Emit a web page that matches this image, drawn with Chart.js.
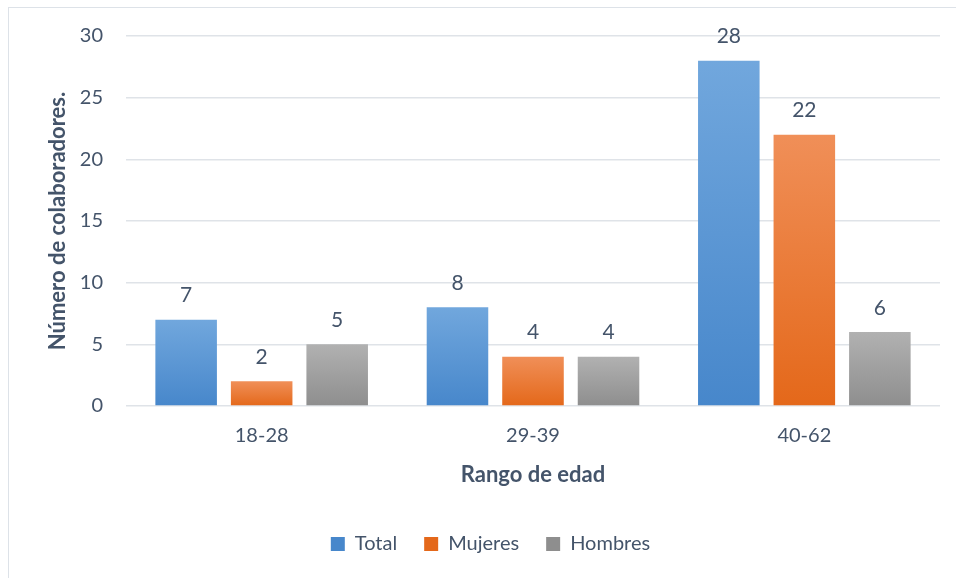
<!DOCTYPE html>
<html>
<head>
<meta charset="utf-8">
<script src="https://cdn.jsdelivr.net/npm/chart.js@4/dist/chart.umd.min.js"></script>
<style>
  html, body { margin: 0; padding: 0; background: #ffffff; }
  #wrap { position: relative; width: 956px; height: 578px; overflow: hidden; }
  #frame { position: absolute; left: 8px; top: 7px; width: 1000px; height: 1000px;
           border-left: 1.5px solid #dde2e8; border-top: 1.5px solid #dde2e8; box-sizing: border-box; }
  canvas { position: absolute; left: 0; top: 0; }
</style>
</head>
<body>
<div id="wrap">
  <div id="frame"></div>
  <canvas id="c" width="956" height="578"></canvas>
</div>
<script>
const categories = ['18-28', '29-39', '40-62'];
const total   = [7, 8, 28];
const mujeres = [2, 4, 22];
const hombres = [5, 4, 6];
const seriesNames = ['Total', 'Mujeres', 'Hombres'];
const yTicks = [0, 5, 10, 15, 20, 25, 30];

const TEXT = '#44546a';
const FONT = 'Lato, "Open Sans", sans-serif';

// top / bottom colours of each series' vertical gradient
const shades = [
  ['#71a7dd', '#4787cb'],
  ['#f08f58', '#e4681a'],
  ['#b1b1b1', '#8e8e8e']
];

function barGradient(i) {
  return function (ctx) {
    const chart = ctx.chart;
    const y = chart.scales.y;
    if (!y || ctx.type !== 'data') return shades[i][1];
    const v = ctx.raw;
    const top = y.getPixelForValue(v);
    const base = y.getPixelForValue(0);
    if (!isFinite(top) || !isFinite(base) || top === base) return shades[i][1];
    const g = chart.ctx.createLinearGradient(0, top, 0, base);
    g.addColorStop(0, shades[i][0]);
    g.addColorStop(1, shades[i][1]);
    return g;
  };
}

// value labels above each bar
const valueLabels = {
  id: 'valueLabels',
  afterDatasetsDraw(chart) {
    const ctx = chart.ctx;
    ctx.save();
    ctx.font = '21px ' + FONT;
    ctx.fillStyle = TEXT;
    ctx.textAlign = 'center';
    ctx.textBaseline = 'middle';
    chart.data.datasets.forEach((ds, di) => {
      chart.getDatasetMeta(di).data.forEach((bar, i) => {
        ctx.fillText(String(ds.data[i]), bar.x, bar.y - 24);
      });
    });
    ctx.restore();
  }
};

new Chart(document.getElementById('c'), {
  type: 'bar',
  data: {
    labels: categories,
    datasets: [total, mujeres, hombres].map((d, i) => ({
      label: seriesNames[i],
      data: d,
      backgroundColor: barGradient(i),
      borderWidth: 0,
      categoryPercentage: 0.835,
      barPercentage: 0.815
    }))
  },
  options: {
    responsive: false,
    animation: false,
    devicePixelRatio: 1,
    layout: { padding: { left: 41, right: 16, top: 36, bottom: 14 } },
    plugins: {
      tooltip: { enabled: false },
      legend: {
        position: 'bottom',
        labels: {
          color: TEXT,
          font: { family: FONT, size: 20 },
          boxWidth: 14,
          boxHeight: 14,
          padding: 27,
          generateLabels(chart) {
            return chart.data.datasets.map((ds, i) => ({
              text: ds.label,
              fillStyle: shades[i][1],
              strokeStyle: 'rgba(0,0,0,0)',
              lineWidth: 0,
              fontColor: TEXT,
              datasetIndex: i
            }));
          }
        }
      }
    },
    scales: {
      x: {
        grid: { display: false, drawTicks: false },
        border: { display: false },
        ticks: { color: TEXT, font: { family: FONT, size: 20 }, padding: 18 },
        title: {
          display: true,
          text: 'Rango de edad',
          color: TEXT,
          font: { family: FONT, size: 22, weight: 'bold' },
          padding: { top: 4, bottom: 19 }
        },
        afterFit(scale) { scale.height = 101; }
      },
      y: {
        min: 0,
        max: 30,
        afterBuildTicks(scale) { scale.ticks = yTicks.map(v => ({ value: v })); },
        grid: { color: '#dfe3e8', lineWidth: 1.5, drawTicks: false },
        border: { display: false },
        ticks: { color: TEXT, font: { family: FONT, size: 20 }, padding: 23 },
        title: {
          display: true,
          text: 'Número de colaboradores.',
          color: TEXT,
          font: { family: FONT, size: 22, weight: 'bold' },
          padding: { top: 4, bottom: 4 }
        },
        afterFit(scale) { scale.width = 85; }
      }
    }
  },
  plugins: [valueLabels]
});
</script>
</body>
</html>
